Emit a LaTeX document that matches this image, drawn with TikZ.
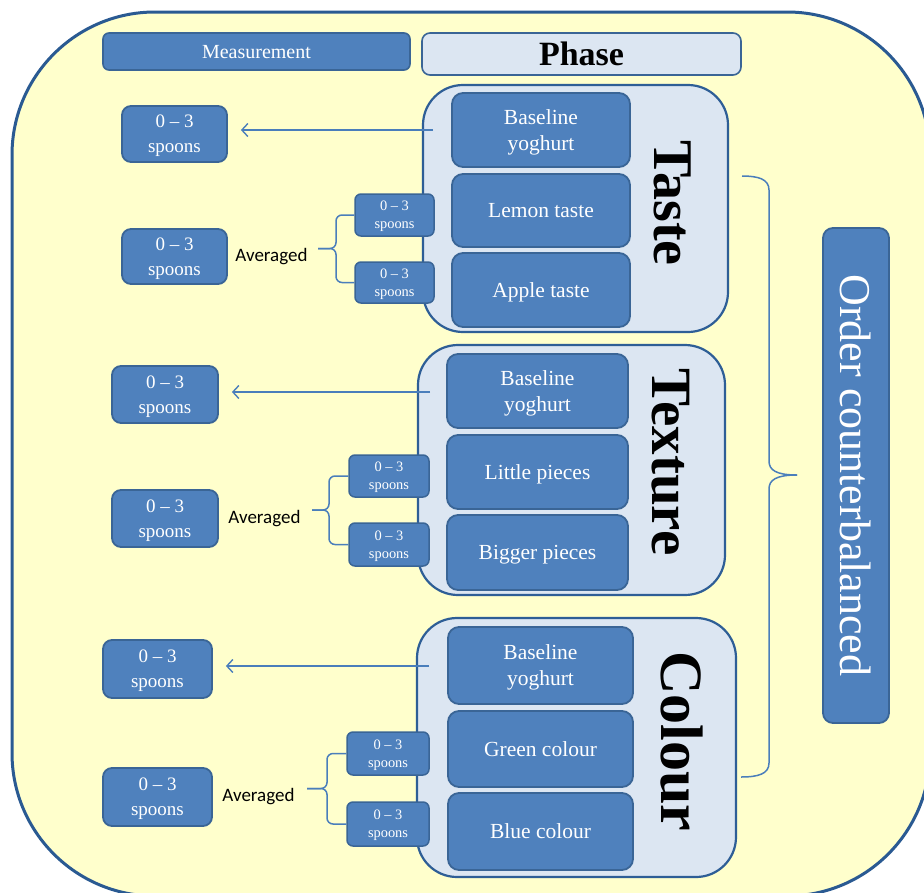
\documentclass[tikz,border=0pt]{standalone}
\usepackage{fontspec}
\setmainfont{Liberation Serif}
\newfontfamily\avgfont{Carlito}
\usetikzlibrary{arrows.meta}
\definecolor{bgyellow}{HTML}{FFFFCC}
\definecolor{outerline}{HTML}{2A5A92}
\definecolor{boxblue}{HTML}{4F81BD}
\definecolor{boxline}{HTML}{3A6596}
\definecolor{grpfill}{HTML}{DCE6F2}
\definecolor{grpline}{HTML}{2E5E96}
\definecolor{connblue}{HTML}{4A7EBB}
\newcommand{\fsz}[2]{\fontsize{#1}{#2}\selectfont}
\begin{document}
\begin{tikzpicture}[x=1pt,y=-1pt,
  bluebox/.style={draw=boxline, line width=1.8pt, fill=boxblue, text=white, align=center, inner sep=0pt, rounded corners=11pt, text depth=0pt},
  phasebox/.style={bluebox, minimum width=180pt, minimum height=74pt, font=\fsz{21.5}{26}},
  spoonbig/.style={bluebox, rounded corners=9pt, font=\fsz{19}{25}},
  spoonsmall/.style={bluebox, line width=1.5pt, rounded corners=6pt, font=\fsz{14.4}{18}},
  group/.style={draw=grpline, line width=2.2pt, fill=grpfill, rounded corners=40pt, inner sep=0pt},
  grplabel/.style={rotate=-90, inner sep=0pt, text=black},
  avg/.style={font=\avgfont\fsz{19}{23}, inner sep=0pt, text=black},
  conn/.style={draw=connblue, line width=1.5pt},
  measarrow/.style={conn, -{Straight Barb[length=6pt,width=13pt,line width=1.4pt]}, shorten >=13pt},
]
\useasboundingbox (0,0) rectangle (924,892);
\fill[white] (0,0) rectangle (924,892);
\begin{scope}
  \clip (0,0) rectangle (924,892);
  \draw[fill=bgyellow, draw=outerline, line width=3pt, rounded corners=143pt] (12,12) rectangle (930,896);
\end{scope}

% header
\node[bluebox, rounded corners=6pt, line width=1.6pt, minimum width=307pt, minimum height=37pt, font=\fsz{20}{24}] (meas) at (256.5,51.5) {Measurement};
\node[bluebox, fill=grpfill, text=black, rounded corners=8pt, line width=1.6pt, minimum width=319pt, minimum height=42pt, font=\bfseries\fsz{34}{38}] (phase) at (581.5,54) {Phase};

% ---------- Taste ----------
\node[group, minimum width=305pt, minimum height=247pt] (gtaste) at (575.5,208.5) {};
\node[phasebox, minimum width=178pt, minimum height=74pt] (t1) at (541,130) {Baseline\\yoghurt};
\node[phasebox, minimum width=178pt, minimum height=73pt] (t2) at (541,210.5) {Lemon taste};
\node[phasebox, minimum width=178pt, minimum height=74pt] (t3) at (541,290) {Apple taste};
\node[grplabel, font=\bfseries\fsz{56}{60}] (ltaste) at (673,203) {Taste};

\node[spoonbig, minimum width=105pt, minimum height=56pt] (tm1) at (174.5,134) {0 -- 3\\spoons};
\node[spoonbig, minimum width=105pt, minimum height=55pt] (tm2) at (174.5,256.5) {0 -- 3\\spoons};
\node[spoonsmall, minimum width=79pt, minimum height=42pt] (ts1) at (394.5,215) {0 -- 3\\spoons};
\node[spoonsmall, minimum width=79pt, minimum height=41pt] (ts2) at (394.5,282.5) {0 -- 3\\spoons};
\node[avg] (tavg) at (271.5,257) {Averaged};
\coordinate (ta0) at (433,130);
\coordinate (tbv) at (336,248.5);
\coordinate (tbt) at (318,248.5);
\draw[measarrow] (ta0) -- (ta0 -| tm1.east);
\draw[conn, rounded corners=6pt] (ts1.west) -| (tbv) -- (tbt);
\draw[conn, rounded corners=6pt] (ts2.west) -| (tbv) -- (tbt);

% ---------- Texture ----------
\node[group, minimum width=307pt, minimum height=250pt] (gtex) at (571.5,470) {};
\node[phasebox, minimum width=181pt, minimum height=74pt] (x1) at (537.5,391) {Baseline\\yoghurt};
\node[phasebox, minimum width=181pt, minimum height=74pt] (x2) at (537.5,472) {Little pieces};
\node[phasebox, minimum width=181pt, minimum height=75pt] (x3) at (537.5,552.5) {Bigger pieces};
\node[grplabel, font=\bfseries\fsz{57}{60}] (ltex) at (671,462) {Texture};

\node[spoonbig, minimum width=106pt, minimum height=57pt] (xm1) at (165,394.5) {0 -- 3\\spoons};
\node[spoonbig, minimum width=106pt, minimum height=57pt] (xm2) at (165,518.5) {0 -- 3\\spoons};
\node[spoonsmall, minimum width=80pt, minimum height=42pt] (xs1) at (389,476) {0 -- 3\\spoons};
\node[spoonsmall, minimum width=80pt, minimum height=43pt] (xs2) at (389,544.5) {0 -- 3\\spoons};
\node[avg] (xavg) at (264.5,519) {Averaged};
\coordinate (xa0) at (430,392);
\coordinate (xbv) at (329,510);
\coordinate (xbt) at (312,510);
\draw[measarrow] (xa0) -- (xa0 -| xm1.east);
\draw[conn, rounded corners=6pt] (xs1.west) -| (xbv) -- (xbt);
\draw[conn, rounded corners=6pt] (xs2.west) -| (xbv) -- (xbt);

% ---------- Colour ----------
\node[group, minimum width=319pt, minimum height=259pt] (gcol) at (576.5,747.5) {};
\node[phasebox, minimum width=185pt, minimum height=77pt] (c1) at (540.5,665.5) {Baseline\\yoghurt};
\node[phasebox, minimum width=185pt, minimum height=76pt] (c2) at (540.5,749) {Green colour};
\node[phasebox, minimum width=185pt, minimum height=77pt] (c3) at (540.5,831.5) {Blue colour};
\node[grplabel, font=\bfseries\fsz{60}{64}] (lcol) at (682,741) {Colour};

\node[spoonbig, minimum width=109pt, minimum height=58pt] (cm1) at (157.5,669) {0 -- 3\\spoons};
\node[spoonbig, minimum width=109pt, minimum height=58pt] (cm2) at (157.5,797) {0 -- 3\\spoons};
\node[spoonsmall, minimum width=82pt, minimum height=43pt] (cs1) at (388,753.5) {0 -- 3\\spoons};
\node[spoonsmall, minimum width=82pt, minimum height=44pt] (cs2) at (388,824) {0 -- 3\\spoons};
\node[avg] (cavg) at (258.5,797) {Averaged};
\coordinate (ca0) at (429,666);
\coordinate (cbv) at (327,788.5);
\coordinate (cbt) at (307,788.5);
\draw[measarrow] (ca0) -- (ca0 -| cm1.east);
\draw[conn, rounded corners=6pt] (cs1.west) -| (cbv) -- (cbt);
\draw[conn, rounded corners=6pt] (cs2.west) -| (cbv) -- (cbt);

% ---------- right brace and order box ----------
\coordinate (rbtop) at (742,176);
\coordinate (rbtip) at (797,475);
\coordinate (rbbot) at (741,777);
\draw[conn] (rbtop) .. controls (758,176) and (769,179) .. (769,190) -- (769,461)
  .. controls (769,470) and (776,475) .. (rbtip);
\draw[conn] (rbtip) .. controls (776,475) and (769,480) .. (769,489) -- (769,763)
  .. controls (769,774) and (758,777) .. (rbbot);

\node[bluebox, rounded corners=10pt, minimum width=66pt, minimum height=495pt] (order) at (856,475.5) {};
\node[rotate=-90, inner sep=0pt, text=white, font=\fsz{44}{48}] (ordertxt) at (order.center) {Order counterbalanced};
\end{tikzpicture}
\end{document}
